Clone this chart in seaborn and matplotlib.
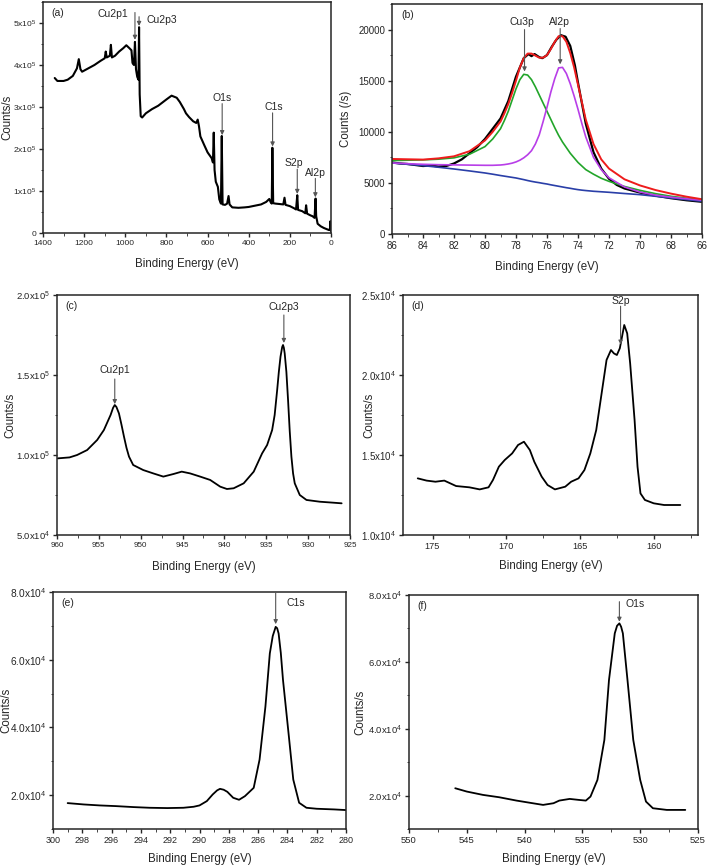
# XPS spectra figure: survey scan + high resolution regions (a)-(f)

import numpy as np
import pandas as pd
import matplotlib
matplotlib.use("Agg")
import matplotlib.pyplot as plt
import seaborn as sns
from matplotlib.ticker import MultipleLocator

# ---------------------------------------------------------------- data
# (a) survey scan
survey_ev = [1343, 1330, 1300, 1280, 1255, 1235, 1226, 1218, 1210, 1180,
             1150, 1120, 1100, 1095, 1090, 1075, 1070, 1065, 1050, 1030,
             1010, 995, 980, 970, 965, 958, 953, 948, 942, 936,
             933, 930, 925, 918, 900, 870, 840, 800, 775, 750,
             735, 715, 705, 690, 670, 655, 648, 642, 635, 615,
             600, 590, 580, 574, 570, 566, 560, 550, 543, 535,
             531, 527, 515, 505, 498, 493, 480, 450, 420, 400,
             370, 340, 315, 300, 293, 288, 285, 281, 270, 250,
             232, 226, 221, 200, 180, 170, 164, 160, 140, 125,
             121, 116, 100, 90, 80, 75, 72, 65, 50, 35,
             20, 10, 5, 3, 1]
survey_counts = [3.69e5, 3.62e5, 3.62e5, 3.65e5, 3.74e5, 3.92e5, 4.14e5, 3.90e5, 3.84e5, 3.92e5,
                 4.00e5, 4.10e5, 4.16e5, 4.32e5, 4.18e5, 4.22e5, 4.48e5, 4.18e5, 4.22e5, 4.32e5,
                 4.40e5, 4.47e5, 4.40e5, 4.35e5, 4.05e5, 4.00e5, 4.55e5, 3.90e5, 3.72e5, 3.65e5,
                 4.90e5, 3.30e5, 2.78e5, 2.75e5, 2.85e5, 2.95e5, 3.03e5, 3.18e5, 3.27e5, 3.22e5,
                 3.12e5, 2.95e5, 2.85e5, 2.76e5, 2.66e5, 2.62e5, 2.70e5, 2.55e5, 2.30e5, 2.08e5,
                 1.92e5, 1.85e5, 1.78e5, 1.68e5, 2.39e5, 1.50e5, 1.22e5, 1.10e5, 0.80e5, 0.70e5,
                 2.31e5, 0.68e5, 0.67e5, 0.70e5, 0.88e5, 0.68e5, 0.61e5, 0.60e5, 0.61e5, 0.62e5,
                 0.65e5, 0.68e5, 0.74e5, 0.81e5, 0.73e5, 0.70e5, 2.03e5, 0.71e5, 0.70e5, 0.69e5,
                 0.68e5, 0.84e5, 0.67e5, 0.64e5, 0.59e5, 0.56e5, 0.90e5, 0.55e5, 0.52e5, 0.47e5,
                 0.66e5, 0.46e5, 0.42e5, 0.40e5, 0.36e5, 0.82e5, 0.40e5, 0.22e5, 0.16e5, 0.12e5,
                 0.09e5, 0.07e5, 0.10e5, 0.28e5, 0.05e5]

# (b) Cu3p / Al2p region with fit
al_ev = [86, 85.5, 85, 84.5, 84, 83.5, 83, 82.5, 82, 81.5,
         81, 80.5, 80, 79.5, 79, 78.5, 78, 77.5, 77.2, 77,
         76.8, 76.5, 76.3, 76, 75.7, 75.4, 75.1, 74.8, 74.5, 74.2,
         74, 73.5, 73, 72.5, 72, 71.5, 71, 70, 69, 68,
         67, 66]
al_counts = [7000, 6900, 6850, 6750, 6650, 6700, 6600, 6650, 6900, 7300,
             7900, 8500, 9300, 10300, 11300, 13000, 15400, 17200, 17600, 17400,
             17600, 17300, 17200, 17500, 18300, 19000, 19450, 19300, 18400, 16500,
             14800, 10800, 8000, 6400, 5400, 4800, 4450, 4050, 3750, 3500,
             3300, 3150]

fit_ev = [86, 85, 84, 83, 82, 81, 80, 79.5, 79, 78.75,
          78.5, 78.25, 78, 77.75, 77.5, 77.25, 77, 76.75, 76.5, 76.25,
          76, 75.75, 75.5, 75.25, 75, 74.75, 74.5, 74.25, 74, 73.75,
          73.5, 73, 72.5, 72, 71, 70, 69, 68, 67, 66]
cu3p_fit = [7180, 7220, 7250, 7320, 7450, 7800, 8550, 9300, 10300, 11100,
            12000, 13100, 14200, 15100, 15620, 15550, 15100, 14400, 13600, 12800,
            12000, 11200, 10400, 9650, 9000, 8450, 7900, 7450, 7000, 6650,
            6300, 5850, 5450, 5150, 4650, 4270, 3950, 3690, 3500, 3350]
al2p_fit = [6950, 6880, 6820, 6780, 6760, 6740, 6720, 6720, 6750, 6790,
            6850, 6930, 7050, 7220, 7450, 7750, 8150, 8800, 9700, 11000,
            12400, 13900, 15200, 16250, 16300, 15700, 14700, 13500, 12200, 10800,
            9500, 7500, 6300, 5500, 4600, 4100, 3800, 3600, 3450, 3300]
background = [6950, 6820, 6690, 6530, 6360, 6170, 5970, 5850, 5720, 5660,
              5600, 5540, 5480, 5400, 5320, 5230, 5150, 5080, 5020, 4950,
              4890, 4810, 4740, 4670, 4600, 4530, 4470, 4400, 4340, 4290,
              4250, 4180, 4130, 4080, 3960, 3850, 3690, 3520, 3360, 3200]
envelope = [7340, 7310, 7280, 7400, 7600, 8100, 9150, 10000, 11000, 11800,
            12700, 13800, 15000, 16300, 17200, 17650, 17650, 17450, 17250, 17250,
            17500, 18100, 18800, 19350, 19350, 18800, 17700, 16300, 14600, 12900,
            11200, 8800, 7300, 6400, 5350, 4750, 4300, 3950, 3650, 3400]

# (c) Cu2p region
cu_ev = [959.9, 958.5, 957.6, 956.4, 955.2, 954.4, 953.6, 953.3, 953.1, 952.9,
         952.6, 952.3, 952.0, 951.7, 951.4, 950.9, 949.7, 948.5, 947.3, 946.1,
         945.1, 944.1, 942.9, 941.7, 940.5, 939.7, 938.9, 937.7, 936.5, 935.5,
         934.9, 934.3, 934.0, 933.7, 933.5, 933.3, 933.1, 933.0, 932.9, 932.8,
         932.6, 932.4, 932.2, 932.0, 931.8, 931.6, 931.0, 930.2, 928.6, 927.0,
         926.0]
cu_counts = [97900, 98500, 100000, 103100, 109400, 115600, 125000, 129500, 131250, 130000,
             126000, 119000, 111500, 104500, 99000, 93750, 90600, 88500, 86500, 88100,
             89600, 88500, 86500, 84400, 80200, 78750, 79200, 82300, 89600, 101000,
             106250, 115600, 125000, 140600, 152000, 161500, 167500, 168750, 167000, 163500,
             152000, 134400, 115000, 99000, 88500, 82300, 75000, 71900, 70800, 70200,
             69800]

# (d) S2p region
s_ev = [176.0, 175.4, 174.8, 174.2, 173.4, 172.5, 171.8, 171.2, 170.9, 170.5,
        170.1, 169.6, 169.2, 168.8, 168.4, 168.1, 167.6, 167.2, 166.7, 166.0,
        165.6, 165.1, 164.7, 164.3, 163.9, 163.6, 163.2, 162.9, 162.7, 162.5,
        162.3, 162.0, 161.8, 161.6, 161.3, 161.1, 160.9, 160.6, 160.0, 159.3,
        158.2]
s_counts = [13540, 13400, 13330, 13400, 13060, 12980, 12850, 12980, 13440, 14270,
            14690, 15100, 15625, 15830, 15310, 14580, 13650, 13125, 12850, 13020,
            13330, 13540, 14060, 15100, 16560, 18440, 20940, 21560, 21350, 21250,
            21670, 23125, 22600, 20730, 17190, 14270, 12600, 12190, 11980, 11875,
            11875]

# (e) C1s region
c_ev = [299.0, 297.9, 296.8, 295.7, 294.5, 293.4, 292.2, 291.1, 290.4, 290.0,
        289.5, 289.1, 288.8, 288.6, 288.35, 288.1, 287.7, 287.3, 286.9, 286.3,
        285.9, 285.5, 285.2, 285.0, 284.8, 284.7, 284.6, 284.45, 284.3, 283.9,
        283.6, 283.2, 282.7, 282.0, 280.8, 280.0]
c_counts = [17650, 17250, 16960, 16760, 16470, 16270, 16180, 16270, 16570, 16960,
            18240, 20200, 21400, 21860, 21600, 20980, 19220, 18630, 19700, 22160,
            30490, 46180, 61860, 67000, 69700, 69300, 67740, 62000, 54000, 37350,
            24610, 17750, 16270, 15980, 15780, 15590]

# (f) O1s region
o_ev = [546.0, 545.0, 543.6, 542.2, 540.7, 539.3, 538.4, 537.5, 537.0, 536.1,
        535.3, 534.7, 534.3, 533.7, 533.1, 532.7, 532.2, 532.0, 531.8, 531.65,
        531.5, 531.1, 530.6, 530.0, 529.5, 528.9, 527.7, 526.1]
o_counts = [22190, 21200, 20200, 19500, 18500, 17710, 17210, 17710, 18500, 19000,
            18700, 18500, 19700, 24680, 36640, 54580, 68530, 70800, 71520, 70500,
            68530, 54580, 36640, 24680, 18200, 16210, 15710, 15710]

# ---------------------------------------------------------------- style
sns.set_style("ticks")
plt.rcParams["font.family"] = ["Liberation Sans", "DejaVu Sans"]
plt.rcParams["mathtext.fontset"] = "custom"
plt.rcParams["mathtext.rm"] = "Liberation Sans"
plt.rcParams["mathtext.it"] = "Liberation Sans:italic"
plt.rcParams["axes.linewidth"] = 1.1
plt.rcParams["xtick.major.size"] = 3
plt.rcParams["ytick.major.size"] = 3
plt.rcParams["xtick.minor.size"] = 1.8
plt.rcParams["ytick.minor.size"] = 1.8
plt.rcParams["xtick.major.width"] = 1.0
plt.rcParams["ytick.major.width"] = 1.0

W, H = 709, 867
fig = plt.figure(figsize=(W / 100, H / 100), dpi=100)


def add_axes(left, top, right, bottom):
    # box given in pixels of the final picture
    return fig.add_axes([left / W, 1 - bottom / H, (right - left) / W, (bottom - top) / H])


def trace(ax, x, y, color="black", lw=1.3):
    df = pd.DataFrame({"ev": x, "counts": y})
    sns.lineplot(data=df, x="ev", y="counts", ax=ax, color=color, lw=lw,
                 estimator=None, sort=True, legend=False)


def arrow(ax, x, y_from, y_to, text=None, tx=None, ty=None, ha="center"):
    ax.annotate("", xy=(x, y_to), xytext=(x, y_from),
                arrowprops=dict(arrowstyle="-|>", color="#555555", lw=0.8,
                                mutation_scale=6, shrinkA=0, shrinkB=0))
    if text:
        ax.text(tx, ty, text, ha=ha, va="center", fontsize=7.5)


def finish(ax, tag, xlim, ylim, xmaj, xmin, ymaj, ymin, ylab, yticks, yticklabels,
           ylab_x, xlab_off, xfs=6.5, yfs=7):
    ax.set_xlim(*xlim)
    ax.set_ylim(*ylim)
    ax.xaxis.set_major_locator(MultipleLocator(xmaj))
    ax.xaxis.set_minor_locator(MultipleLocator(xmin))
    ax.yaxis.set_minor_locator(MultipleLocator(ymin))
    ax.set_yticks(yticks, yticklabels)
    ax.tick_params(axis="x", labelsize=xfs, pad=2)
    ax.tick_params(axis="y", labelsize=yfs, pad=2)
    ax.tick_params(which="minor", direction="out")
    ax.set_xlabel("Binding Energy (eV)", fontsize=8.3)
    ax.set_ylabel(ylab, fontsize=8.3)
    h = ax.get_position().height * H
    ax.xaxis.set_label_coords(0.5, -xlab_off / h)
    ax.yaxis.set_label_coords(ylab_x, 0.5)
    ax.text(0.03, 0.975, tag, transform=ax.transAxes, ha="left", va="top", fontsize=7.5)


# ---------------------------------------------------------------- (a)
ax = add_axes(43, 2, 331, 233)
trace(ax, survey_ev, survey_counts, lw=1.5)
arrow(ax, 953, 5.25e5, 4.6e5, "Cu2p1", 1060, 5.22e5)
arrow(ax, 933, 5.15e5, 4.93e5, "Cu2p3", 895, 5.08e5, ha="left")
arrow(ax, 529, 3.08e5, 2.33e5, "O1s", 529, 3.22e5)
arrow(ax, 284, 2.86e5, 2.06e5, "C1s", 277, 3.0e5)
arrow(ax, 164, 1.52e5, 0.93e5, "S2p", 183, 1.66e5)
arrow(ax, 76, 1.30e5, 0.85e5, "Al2p", 78, 1.43e5)
finish(ax, "(a)", (1400, 0), (0, 5.5e5), 200, 100, 1e5, 0.5e5, "Counts/s",
       [0, 1e5, 2e5, 3e5, 4e5, 5e5],
       ["0", r"1x10$^5$", r"2x10$^5$", r"3x10$^5$", r"4x10$^5$", r"5x10$^5$"],
       -0.104, 25, xfs=6, yfs=6)

# ---------------------------------------------------------------- (b)
ax = add_axes(392, 4, 702, 234)
trace(ax, al_ev, al_counts, lw=1.6)
trace(ax, fit_ev, background, color="#2a3fa8", lw=1.2)
trace(ax, fit_ev, cu3p_fit, color="#22a52a", lw=1.2)
trace(ax, fit_ev, al2p_fit, color="#b83ee8", lw=1.2)
trace(ax, fit_ev, envelope, color="#ee1c1c", lw=1.4)
arrow(ax, 77.45, 20000, 15900, "Cu3p", 77.6, 20750)
arrow(ax, 75.15, 20100, 16600, "Al2p", 75.2, 20750)
finish(ax, "(b)", (86, 66), (0, 22500), 2, 1, 5000, 2500, "Counts (/s)",
       [0, 5000, 10000, 15000, 20000], ["0", "5000", "10000", "15000", "20000"],
       -0.129, 27, xfs=7, yfs=7)

# ---------------------------------------------------------------- (c)
ax = add_axes(57, 295, 350, 535)
trace(ax, cu_ev, cu_counts)
arrow(ax, 953.1, 147500, 131800, "Cu2p1", 953.1, 153000)
arrow(ax, 932.9, 187500, 170000, "Cu2p3", 932.9, 192800)
finish(ax, "(c)", (960, 925), (5e4, 2e5), 5, 2.5, 5e4, 2.5e4, "Counts/s",
       [5e4, 1e5, 1.5e5, 2e5],
       [r"5.0x10$^4$", r"1.0x10$^5$", r"1.5x10$^5$", r"2.0x10$^5$"],
       -0.137, 26, xfs=5.8, yfs=6.8)

# ---------------------------------------------------------------- (d)
ax = add_axes(403, 295, 698, 535)
trace(ax, s_ev, s_counts)
arrow(ax, 162.25, 24300, 21900, "S2p", 162.2, 24650)
finish(ax, "(d)", (177, 157), (1e4, 2.5e4), 5, 2.5, 5000, 2500, "Counts/s",
       [1e4, 1.5e4, 2e4, 2.5e4],
       [r"1.0x10$^4$", r"1.5x10$^4$", r"2.0x10$^4$", r"2.5x10$^4$"],
       -0.095, 25, xfs=6.6, yfs=7)

# ---------------------------------------------------------------- (e)
ax = add_axes(53, 592, 346, 829)
trace(ax, c_ev, c_counts)
arrow(ax, 284.8, 80000, 70500, "C1s", 283.4, 76700)
finish(ax, "(e)", (300, 280), (1e4, 8e4), 2, 1, 2e4, 1e4, "Counts/s",
       [2e4, 4e4, 6e4, 8e4],
       [r"2.0x10$^4$", r"4.0x10$^4$", r"6.0x10$^4$", r"8.0x10$^4$"],
       -0.137, 24, xfs=6.5, yfs=7.3)

# ---------------------------------------------------------------- (f)
ax = add_axes(409, 595, 698, 829)
trace(ax, o_ev, o_counts)
arrow(ax, 531.8, 78000, 72000, "O1s", 530.4, 77300)
finish(ax, "(f)", (550, 525), (1e4, 8e4), 5, 2.5, 2e4, 1e4, "Counts/s",
       [2e4, 4e4, 6e4, 8e4],
       [r"2.0x10$^4$", r"4.0x10$^4$", r"6.0x10$^4$", r"8.0x10$^4$"],
       -0.147, 24, xfs=6.8, yfs=6.8)

fig.savefig("out.png", dpi=100)
